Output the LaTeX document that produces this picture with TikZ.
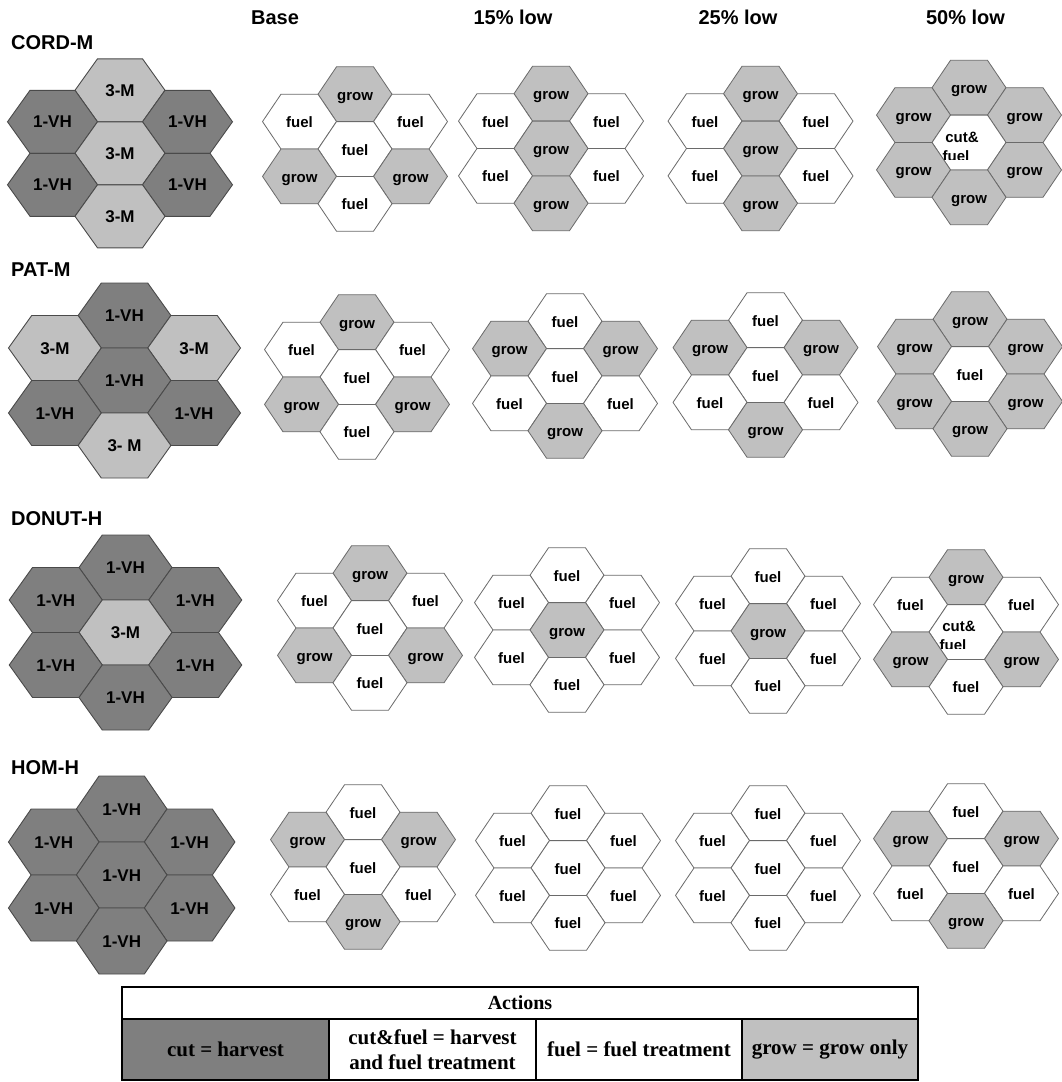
\documentclass[tikz,border=0pt]{standalone}
\usepackage{fontspec}
\setmainfont{Liberation Serif}
\newfontfamily\hexfont{Liberation Sans}

\definecolor{darkfill}{HTML}{7F7F7F}
\definecolor{lightfill}{HTML}{C0C0C0}
\definecolor{bigedge}{HTML}{4A4A4A}
\definecolor{smalledge}{HTML}{6A6A6A}

\tikzset{
  bighex/.style={draw=bigedge, line width=0.9pt},
  smallhex/.style={draw=smalledge, line width=0.8pt},
  bigtext/.style={font=\hexfont\bfseries\fontsize{17}{19}\selectfont, anchor=base, inner sep=0pt},
  smalltext/.style={font=\hexfont\bfseries\fontsize{15}{17}\selectfont, anchor=base, inner sep=0pt},
  titletext/.style={font=\hexfont\bfseries\fontsize{20}{24}\selectfont, inner sep=0pt},
  legcell/.style={draw=black, line width=1.2pt, inner sep=0pt, align=center,
    font=\bfseries\fontsize{21}{25}\selectfont},
}

% flat-topped hexagon: style, centre x, centre y, half width, half height
\newcommand\hexpath[5]{%
  \path[#1] ({#2+#4},{#3}) -- ({#2+0.5*#4},{#3-#5}) -- ({#2-0.5*#4},{#3-#5})
    -- ({#2-#4},{#3}) -- ({#2-0.5*#4},{#3+#5}) -- ({#2+0.5*#4},{#3+#5}) -- cycle;}

% small action cells
\newcommand\cellG[3]{\hexpath{smallhex,fill=lightfill}{#2}{#3}{\sa}{\sb}%
  \node[smalltext] (#1) at ({#2},{#3+6}) {grow};}
\newcommand\cellF[3]{\hexpath{smallhex,fill=white}{#2}{#3}{\sa}{\sb}%
  \node[smalltext] (#1) at ({#2},{#3+6}) {fuel};}
\newcommand\cellX[3]{\hexpath{smallhex,fill=white}{#2}{#3}{\sa}{\sb}%
  \node[smalltext] (#1) at ({#2-7},{#3-0.5}) {cut\&};
  \begin{scope}
    \clip ({#2-\sa},{#3}) rectangle ({#2+\sa},{#3+16.5});
    \node[smalltext] (#1-2) at ({#2-13},{#3+18.5}) {fuel};
  \end{scope}}

% large stand cells
\newcommand\cellD[3]{\hexpath{bighex,fill=darkfill}{#2}{#3}{\ba}{\bb}%
  \node[bigtext] (#1) at ({#2},{#3+6}) {1-VH};}
\newcommand\cellM[3]{\hexpath{bighex,fill=lightfill}{#2}{#3}{\ba}{\bb}%
  \node[bigtext] (#1) at ({#2},{#3+6}) {3-M};}
\newcommand\cellN[3]{\hexpath{bighex,fill=lightfill}{#2}{#3}{\ba}{\bb}%
  \node[bigtext] (#1) at ({#2},{#3+6}) {3- M};}

% seven-cell flower around (\gx,\gy): top, upper left, upper right, centre,
% lower left, lower right, bottom
\newcommand\smallflower[8]{%
  \csname cell#2\endcsname{#1-t}{\gx}{\gy-2*\sb}
  \csname cell#3\endcsname{#1-ul}{\gx-1.5*\sa}{\gy-\sb}
  \csname cell#4\endcsname{#1-ur}{\gx+1.5*\sa}{\gy-\sb}
  \csname cell#5\endcsname{#1-c}{\gx}{\gy}
  \csname cell#6\endcsname{#1-ll}{\gx-1.5*\sa}{\gy+\sb}
  \csname cell#7\endcsname{#1-lr}{\gx+1.5*\sa}{\gy+\sb}
  \csname cell#8\endcsname{#1-b}{\gx}{\gy+2*\sb}}
\newcommand\bigflower[8]{%
  \csname cell#2\endcsname{#1-t}{\gx}{\gy-2*\bb}
  \csname cell#3\endcsname{#1-ul}{\gx-1.5*\ba}{\gy-\bb}
  \csname cell#4\endcsname{#1-ur}{\gx+1.5*\ba}{\gy-\bb}
  \csname cell#5\endcsname{#1-c}{\gx}{\gy}
  \csname cell#6\endcsname{#1-ll}{\gx-1.5*\ba}{\gy+\bb}
  \csname cell#7\endcsname{#1-lr}{\gx+1.5*\ba}{\gy+\bb}
  \csname cell#8\endcsname{#1-b}{\gx}{\gy+2*\bb}}

\begin{document}
\begin{tikzpicture}[x=1pt, y=-1pt]
\useasboundingbox[fill=white] (0,0) rectangle (1062,1082);

% column headings
\node[titletext] (hbase) at (275,17.5) {Base};
\node[titletext] (h15) at (513,17.5) {15\% low};
\node[titletext] (h25) at (738,17.5) {25\% low};
\node[titletext] (h50) at (965.5,17.5) {50\% low};

% row headings
\node[titletext, anchor=west] (rcord) at (11,43) {CORD-M};
\node[titletext, anchor=west] (rpat) at (11,270) {PAT-M};
\node[titletext, anchor=west] (rdonut) at (11,519) {DONUT-H};
\node[titletext, anchor=west] (rhom) at (11,767.5) {HOM-H};

% stand layouts
\def\ba{45}\def\bb{31.5}
\def\gx{120}\def\gy{153.3}\bigflower{cord}{M}{D}{D}{M}{D}{D}{M}
\def\ba{46.4}\def\bb{32.5}
\def\gx{124.5}\def\gy{380.5}\bigflower{pat}{D}{M}{M}{D}{D}{D}{N}
\def\ba{46.5}\def\bb{32.5}
\def\gx{125.5}\def\gy{632.5}\bigflower{donut}{D}{D}{D}{M}{D}{D}{D}
\def\ba{45.3}\def\bb{33}
\def\gx{121.7}\def\gy{875}\bigflower{hom}{D}{D}{D}{D}{D}{D}{D}

% action layouts
\def\sa{37}\def\sb{27.4}
% CORD-M
\def\gx{355}\def\gy{149}\smallflower{c0}{G}{F}{F}{F}{G}{G}{F}
\def\gx{551}\def\gy{148.5}\smallflower{c15}{G}{F}{F}{G}{F}{F}{G}
\def\gx{760.5}\def\gy{148.5}\smallflower{c25}{G}{F}{F}{G}{F}{F}{G}
\def\gx{969}\def\gy{142.5}\smallflower{c50}{G}{G}{G}{X}{G}{G}{G}
% PAT-M
\def\gx{357}\def\gy{377}\smallflower{p0}{G}{F}{F}{F}{G}{G}{F}
\def\gx{565}\def\gy{376}\smallflower{p15}{F}{G}{G}{F}{F}{F}{G}
\def\gx{765.5}\def\gy{375}\smallflower{p25}{F}{G}{G}{F}{F}{F}{G}
\def\gx{970}\def\gy{374}\smallflower{p50}{G}{G}{G}{F}{G}{G}{G}
% DONUT-H
\def\gx{370}\def\gy{628}\smallflower{d0}{G}{F}{F}{F}{G}{G}{F}
\def\gx{567}\def\gy{630}\smallflower{d15}{F}{F}{F}{G}{F}{F}{F}
\def\gx{768}\def\gy{631}\smallflower{d25}{F}{F}{F}{G}{F}{F}{F}
\def\gx{966}\def\gy{632}\smallflower{d50}{G}{F}{F}{X}{G}{G}{F}
% HOM-H
\def\gx{363}\def\gy{867}\smallflower{h0}{F}{G}{G}{F}{F}{F}{G}
\def\gx{568}\def\gy{868}\smallflower{h15}{F}{F}{F}{F}{F}{F}{F}
\def\gx{768}\def\gy{868}\smallflower{h25}{F}{F}{F}{F}{F}{F}{F}
\def\gx{966}\def\gy{866}\smallflower{h50}{F}{G}{G}{F}{F}{F}{G}

% legend table
\node[legcell, minimum width=796pt, minimum height=32pt, font=\bfseries\fontsize{20}{24}\selectfont]
  (acts) at (520,1003) {Actions};
\node[legcell, fill=darkfill, minimum width=207pt, minimum height=61pt] (lcut) at (225.5,1049.5) {cut = harvest};
\node[legcell, fill=white, minimum width=207pt, minimum height=61pt] (lcf) at (432.5,1049.5) {cut\&fuel = harvest\\and fuel treatment};
\node[legcell, fill=white, minimum width=206pt, minimum height=61pt] (lfuel) at (639,1049.5) {fuel = fuel treatment};
\node[legcell, fill=lightfill, minimum width=176pt, minimum height=61pt] (lgrow) at (830,1049.5) {grow = grow only};
\end{tikzpicture}
\end{document}
